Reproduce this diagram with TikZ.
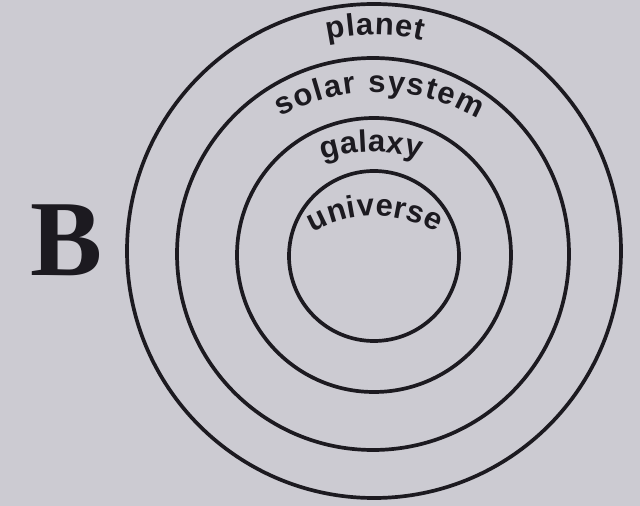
\documentclass[tikz,border=0pt]{standalone}
\usepackage{fontspec}
\setmainfont{Liberation Serif}
\newfontfamily\lblfont{Liberation Sans}
\usetikzlibrary{decorations.text}
\definecolor{paper}{RGB}{204,203,210}
\definecolor{ink}{RGB}{28,26,32}
\newcommand{\lblsize}{\lblfont\bfseries\fontsize{31}{36}\selectfont}

\begin{document}
\begin{tikzpicture}[x=1pt,y=1pt,
    ring/.style={draw=ink,line width=3.7pt},
    arclabel/.style={decorate,decoration={text along path,
        text={|\lblsize|#1},text color=ink,text align=fit to path}}]
  \fill[paper] (0,0) rectangle (640,506);
  \node[inner sep=0pt,text=ink,font=\bfseries\fontsize{108}{108}\selectfont] (B) at (67,266) {B};
  % the four rings
  \draw[ring] (374,255) circle[radius=247];
  \draw[ring] (373,252) circle[radius=196];
  \draw[ring] (374,251) circle[radius=137];
  \draw[ring] (374,250) circle[radius=85];
  % labels along the arcs
  \path[arclabel=planet] (375,252) ++(102.5:219) arc[start angle=102.5,end angle=77.5,radius=219];
  \path[arclabel=solar system] (378,214) ++(119:200) arc[start angle=119,end angle=60,radius=200];
  \path[arclabel=galaxy] (372,184) ++(107:170) arc[start angle=107,end angle=73.6,radius=170];
  \path[arclabel=universe] (375,166) ++(120:124) arc[start angle=120,end angle=60,radius=124];
\end{tikzpicture}
\end{document}
